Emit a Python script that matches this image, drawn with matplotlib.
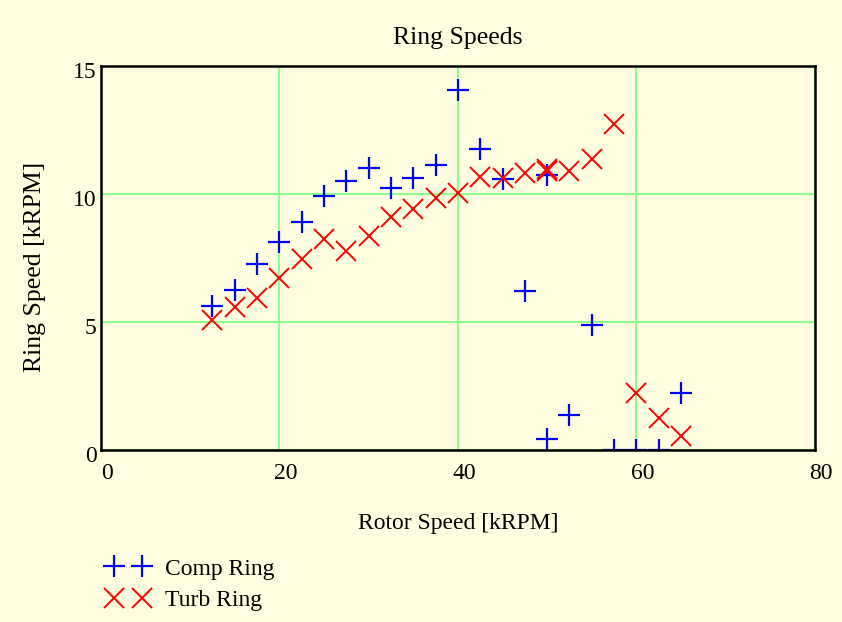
import numpy as np
import matplotlib
matplotlib.use("Agg")
import matplotlib.pyplot as plt
import matplotlib.transforms as mtransforms

# Rotor speed [kRPM] (x = 50 appears twice in the data)
rotor = [12.5, 15.0, 17.5, 20.0, 22.5, 25.0, 27.5, 30.0, 32.5, 35.0, 37.5,
         40.0, 42.5, 45.0, 47.5, 50.0, 50.0, 52.5, 55.0, 57.5, 60.0, 62.5, 65.0]

# Compressor ring speed [kRPM]
comp_ring = [5.61, 6.24, 7.24, 8.10, 8.88, 9.89, 10.51, 11.00, 10.21, 10.60, 11.13,
             14.06, 11.75, 10.58, 6.20, 10.74, 0.41, 1.35, 4.87, 0.0, 0.0, 0.0, 2.21]

# Turbine ring speed [kRPM]
turb_ring = [5.06, 5.57, 5.93, 6.71, 7.45, 8.23, 7.76, 8.35, 9.09, 9.41, 9.84,
             10.03, 10.66, 10.62, 10.81, 10.89, 10.95, 10.89, 11.36, 12.73, 2.21, 1.23, 0.53]

bg = '#FFFEE0'
grid_col = '#80FF80'
fs = 17
plt.rcParams['font.family'] = ['Liberation Serif', 'DejaVu Serif']

fig = plt.figure(figsize=(8.42, 6.22), dpi=100, facecolor=bg)
ax = fig.add_axes([0.1196, 0.2773, 0.8484, 0.6171], facecolor=bg)

ax.plot(rotor, comp_ring, linestyle='none', marker='+', markersize=15.5,
        markeredgewidth=1.6, color='#0000FF', label='Comp Ring', zorder=3)
ax.plot(rotor, turb_ring, linestyle='none', marker='x', markersize=15,
        markeredgewidth=1.4, color='#FF0000', label='Turb Ring', zorder=3)

ax.set_xlim(0, 80)
ax.set_ylim(0, 15)
ax.set_xticks([0, 20, 40, 60, 80])
ax.set_yticks([0, 5, 10, 15])
ax.grid(True, color=grid_col, linewidth=1.3, zorder=1)
ax.set_axisbelow(True)
ax.tick_params(axis='x', length=0, labelsize=fs, pad=10)
ax.tick_params(axis='y', length=0, labelsize=fs, pad=3)
for sp in ax.spines.values():
    sp.set_linewidth(1.8)
    sp.set_color('black')
    sp.set_zorder(4)

# tick labels sit slightly offset from their grid lines
yshift = mtransforms.ScaledTranslation(0, -0.04, fig.dpi_scale_trans)
for lbl in ax.get_yticklabels():
    lbl.set_transform(lbl.get_transform() + yshift)
xshift = mtransforms.ScaledTranslation(0.06, 0, fig.dpi_scale_trans)
for lbl in ax.get_xticklabels():
    lbl.set_transform(lbl.get_transform() + xshift)

ax.set_title('Ring Speeds', fontsize=18.5, pad=0, y=1.072, va='center')
ax.set_xlabel('Rotor Speed [kRPM]', fontsize=fs, va='center')
ax.xaxis.set_label_coords(0.5, -0.1915)
ax.set_ylabel('Ring Speed [kRPM]', fontsize=18.5, va='center')
ax.yaxis.set_label_coords(-0.092, 0.475)

fig.legend(loc='upper left', bbox_to_anchor=(0.1152, 0.118), numpoints=2,
           frameon=False, fontsize=fs, handlelength=1.79, handletextpad=0.69,
           labelspacing=0.435, borderaxespad=0)

plt.savefig('out.png', dpi=100, facecolor=bg)
